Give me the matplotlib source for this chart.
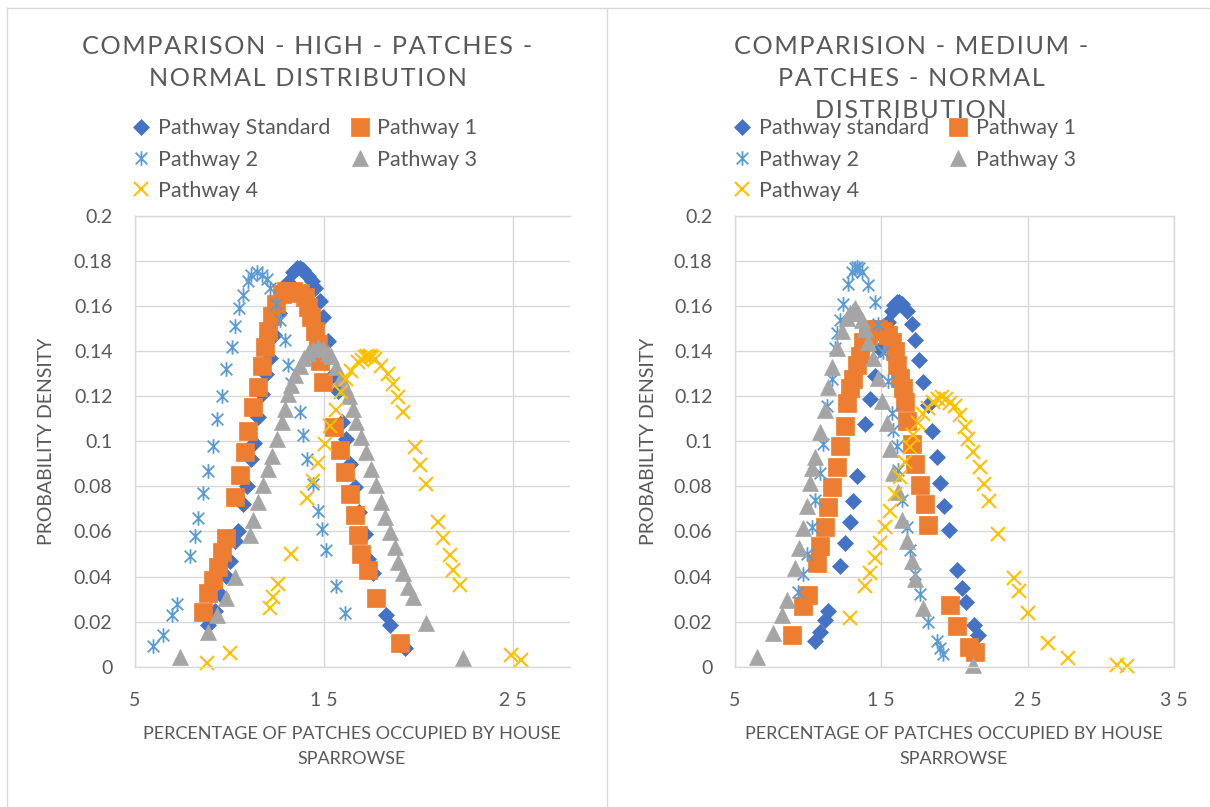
import matplotlib
matplotlib.use("Agg")
import matplotlib.pyplot as plt
from matplotlib.path import Path
from matplotlib.lines import Line2D
from matplotlib import font_manager
from matplotlib.ticker import FixedLocator, FuncFormatter

# ---------------- high patches ----------------
high_std_x = [8.85, 9.25, 9.55, 9.85, 10.05, 10.30, 10.47, 10.70, 10.91, 11.17, 11.30, 11.52, 11.75, 11.95,
              12.14, 12.35, 12.60, 12.85, 13.10, 13.35, 13.55, 13.72, 13.90, 14.16, 14.35, 14.51, 14.78, 14.95,
              15.22, 15.50, 15.74, 15.95, 16.19, 16.36, 16.62, 16.85, 17.15, 17.35, 17.59, 18.26, 18.51, 19.26]
high_std_y = [0.0185, 0.0246, 0.0318, 0.0404, 0.0469, 0.0558, 0.0600, 0.0720, 0.0800, 0.0920, 0.0994, 0.1107,
              0.1210, 0.1300, 0.1370, 0.1470, 0.1570, 0.1645, 0.1707, 0.1750, 0.1768, 0.1770, 0.1760, 0.1735,
              0.1710, 0.1680, 0.1624, 0.1550, 0.1447, 0.1296, 0.1225, 0.1085, 0.1010, 0.0900, 0.0797, 0.0686,
              0.0590, 0.0480, 0.0414, 0.0229, 0.0185, 0.0081]

high_p1_x = [8.62, 8.88, 9.15, 9.41, 9.59, 9.85, 10.29, 10.56, 10.82, 11.00, 11.26, 11.52, 11.70, 11.88, 12.05,
             12.23, 12.49, 12.76, 13.02, 13.37, 13.72, 13.99, 14.16, 14.34, 14.51, 14.69, 14.78, 14.97, 15.55,
             15.83, 16.10, 16.36, 16.63, 16.80, 16.98, 17.33, 17.77, 19.00]
high_p1_y = [0.0244, 0.0325, 0.0384, 0.0443, 0.0509, 0.0569, 0.0753, 0.0849, 0.0952, 0.1048, 0.1151, 0.1240,
             0.1336, 0.1417, 0.1490, 0.1557, 0.1610, 0.1654, 0.1668, 0.1668, 0.1660, 0.1639, 0.1594, 0.1550,
             0.1490, 0.1432, 0.1358, 0.1262, 0.1063, 0.0960, 0.0864, 0.0768, 0.0672, 0.0583, 0.0502, 0.0428,
             0.0303, 0.0104]

high_p2_x = [5.98, 6.48, 6.96, 7.23, 7.92, 8.18, 8.36, 8.62, 8.88, 9.15, 9.33, 9.59, 9.85, 10.12, 10.29, 10.52,
             10.73, 10.99, 11.17, 11.44, 11.70, 11.97, 12.15, 12.49, 12.67, 12.93, 13.10, 13.28, 13.72, 13.90,
             14.08, 14.42, 14.69, 14.87, 15.13, 15.62, 16.10]
high_p2_y = [0.009, 0.014, 0.023, 0.028, 0.049, 0.058, 0.066, 0.077, 0.087, 0.098, 0.110, 0.120, 0.132, 0.142,
             0.151, 0.159, 0.165, 0.171, 0.174, 0.175, 0.174, 0.172, 0.168, 0.161, 0.154, 0.145, 0.134, 0.126,
             0.113, 0.103, 0.092, 0.081, 0.069, 0.061, 0.052, 0.036, 0.024]

high_p3_x = [7.39, 8.88, 9.33, 9.85, 10.29, 11.08, 11.26, 11.52, 11.79, 12.05, 12.23, 12.50, 12.76, 12.93, 13.10,
             13.28, 13.46, 13.72, 13.95, 14.16, 14.40, 14.69, 14.95, 15.20, 15.39, 15.66, 15.90, 16.10, 16.30,
             16.54, 16.71, 16.98, 17.24, 17.51, 17.77, 18.03, 18.21, 18.47, 18.74, 18.91, 19.17, 19.44, 19.70,
             20.41, 22.34]
high_p3_y = [0.0044, 0.0155, 0.0229, 0.0303, 0.0399, 0.0583, 0.0650, 0.0730, 0.0805, 0.0879, 0.0937, 0.1010,
             0.1085, 0.1144, 0.1210, 0.1250, 0.1295, 0.1336, 0.1370, 0.1390, 0.1410, 0.1417, 0.1410, 0.1390,
             0.1380, 0.1329, 0.1280, 0.1240, 0.1203, 0.1144, 0.1085, 0.1019, 0.0952, 0.0879, 0.0805, 0.0731,
             0.0664, 0.0598, 0.0531, 0.0465, 0.0414, 0.0354, 0.0310, 0.0192, 0.0037]

high_p4_x = [8.80, 10.03, 12.14, 12.31, 12.58, 13.28, 14.10, 14.42, 14.69, 15.04, 15.31, 15.66, 15.92, 16.19,
             16.45, 16.80, 17.00, 17.15, 17.30, 17.42, 17.55, 17.68, 18.03, 18.38, 18.65, 18.91, 19.17, 19.79,
             20.06, 20.41, 21.02, 21.29, 21.64, 21.81, 22.17, 24.89, 25.42]
high_p4_y = [0.0015, 0.0059, 0.0259, 0.0310, 0.0369, 0.0502, 0.0750, 0.0823, 0.0904, 0.0990, 0.1066, 0.1140,
             0.1218, 0.1277, 0.1314, 0.1350, 0.1360, 0.1373, 0.1378, 0.1380, 0.1375, 0.1366, 0.1336, 0.1299,
             0.1255, 0.1196, 0.1129, 0.0974, 0.0893, 0.0812, 0.0642, 0.0569, 0.0495, 0.0428, 0.0362, 0.0052,
             0.0030]

# ---------------- medium patches ----------------
med_std_x = [10.48, 10.82, 11.20, 11.39, 12.19, 12.53, 12.87, 13.10, 13.33, 13.90, 14.24, 14.58, 14.95, 15.26,
             15.49, 15.71, 15.90, 16.06, 16.25, 16.40, 16.74, 17.08, 17.31, 17.60, 17.87, 18.22, 18.45, 18.79,
             19.01, 19.29, 19.63, 20.15, 20.50, 20.79, 21.33, 21.63]
med_std_y = [0.0112, 0.0156, 0.0208, 0.0245, 0.0446, 0.0550, 0.0640, 0.0735, 0.0846, 0.1078, 0.1190, 0.1290,
             0.1410, 0.1490, 0.1530, 0.1580, 0.1605, 0.1620, 0.1620, 0.1610, 0.1580, 0.1520, 0.1450, 0.1360,
             0.1265, 0.1160, 0.1045, 0.0930, 0.0816, 0.0714, 0.0607, 0.0429, 0.0350, 0.0286, 0.0186, 0.0141]

med_p1_x = [8.89, 9.68, 10.02, 10.60, 10.82, 11.16, 11.39, 11.62, 11.96, 12.19, 12.53, 12.65, 12.87, 13.10,
            13.33, 13.55, 13.78, 14.12, 14.46, 14.80, 15.15, 15.49, 15.71, 15.94, 16.06, 16.28, 16.51, 16.62,
            16.74, 17.08, 17.31, 17.65, 17.99, 18.22, 19.68, 20.15, 21.00, 21.40]
med_p1_y = [0.0140, 0.0268, 0.0320, 0.0460, 0.0536, 0.0618, 0.0707, 0.0797, 0.0886, 0.0980, 0.1067, 0.1170,
            0.1235, 0.1276, 0.1340, 0.1380, 0.1443, 0.1466, 0.1500, 0.1500, 0.1490, 0.1470, 0.1440, 0.1400,
            0.1340, 0.1280, 0.1235, 0.1175, 0.1090, 0.0990, 0.0900, 0.0805, 0.0722, 0.0628, 0.0272, 0.0179,
            0.0089, 0.0067]

med_p2_x = [9.34, 9.68, 9.91, 10.26, 10.48, 10.82, 11.05, 11.28, 11.62, 11.85, 12.02, 12.19, 12.41, 12.75,
            13.00, 13.20, 13.33, 13.50, 13.70, 14.12, 14.58, 14.80, 15.14, 15.49, 15.71, 15.83, 16.06, 16.17,
            16.40, 16.74, 17.00, 17.31, 17.65, 18.22, 18.79, 19.01, 19.24]
med_p2_y = [0.0331, 0.0413, 0.0502, 0.0622, 0.0740, 0.0860, 0.0987, 0.1157, 0.1276, 0.1414, 0.1480, 0.1537,
            0.1610, 0.1700, 0.1750, 0.1770, 0.1775, 0.1770, 0.1750, 0.1692, 0.1618, 0.1520, 0.1395, 0.1268,
            0.1127, 0.1050, 0.0978, 0.0875, 0.0740, 0.0620, 0.0520, 0.0413, 0.0323, 0.0198, 0.0116, 0.0085,
            0.0055]

med_p3_x = [6.50, 7.63, 8.21, 8.55, 9.11, 9.40, 9.68, 9.91, 10.12, 10.30, 10.48, 10.82, 11.16, 11.39, 11.62,
            11.96, 12.30, 12.65, 12.85, 13.05, 13.21, 13.45, 13.70, 13.89, 14.12, 14.46, 14.80, 15.03, 15.37,
            15.60, 15.83, 16.17, 16.40, 16.74, 17.08, 17.31, 17.87, 21.29]
med_p3_y = [0.0045, 0.0149, 0.0231, 0.0298, 0.0439, 0.0525, 0.0617, 0.0713, 0.0817, 0.0880, 0.0930, 0.1040,
            0.1140, 0.1240, 0.1330, 0.1413, 0.1490, 0.1547, 0.1570, 0.1580, 0.1590, 0.1570, 0.1540, 0.1500,
            0.1440, 0.1370, 0.1280, 0.1180, 0.1080, 0.0967, 0.0860, 0.0774, 0.0651, 0.0558, 0.0469, 0.0387,
            0.0260, 0.0008]

med_p4_x = [12.87, 13.89, 14.24, 14.58, 14.92, 15.26, 15.60, 15.94, 16.28, 16.62, 16.97, 17.19, 17.53, 17.87,
            18.22, 18.55, 18.90, 19.13, 19.40, 19.70, 20.04, 20.38, 20.72, 20.94, 21.29, 21.74, 22.03, 22.37,
            23.00, 24.07, 24.42, 25.04, 26.41, 27.77, 31.10, 31.80]
med_p4_y = [0.0216, 0.0357, 0.0417, 0.0484, 0.0550, 0.0618, 0.0692, 0.0766, 0.0841, 0.0908, 0.0975, 0.1030,
            0.1080, 0.1120, 0.1150, 0.1175, 0.1190, 0.1195, 0.1190, 0.1170, 0.1155, 0.1116, 0.1064, 0.1012,
            0.0952, 0.0885, 0.0810, 0.0736, 0.0588, 0.0394, 0.0338, 0.0238, 0.0104, 0.0037, 0.0006, 0.0005]

high_labels = ["Pathway Standard", "Pathway 1", "Pathway 2", "Pathway 3", "Pathway 4"]
med_labels = ["Pathway standard", "Pathway 1", "Pathway 2", "Pathway 3", "Pathway 4"]
high_title = "COMPARISON - HIGH - PATCHES -\nNORMAL DISTRIBUTION"
med_title = "COMPARISION - MEDIUM -\nPATCHES - NORMAL\nDISTRIBUTION"
x_title = "PERCENTAGE OF PATCHES OCCUPIED BY HOUSE\nSPARROWSE"
y_title = "PROBABILITY DENSITY"
y_ticks = [0, 0.02, 0.04, 0.06, 0.08, 0.1, 0.12, 0.14, 0.16, 0.18, 0.2]
high_x_ticks = [5, 15, 25]
med_x_ticks = [5, 15, 25, 35]

# ---------------- styling ----------------
W, H = 1210, 807
TXT = "#595959"
GRID = "#D9D9D9"
installed = {f.name for f in font_manager.fontManager.ttflist}
BASE = ["Lato", "DejaVu Sans"]
CAPS = (["Liberation Sans Narrow", "Lato", "DejaVu Sans"]
        if "Liberation Sans Narrow" in installed else BASE)
CAPS_SIZE = 14.5 if CAPS[0] == "Liberation Sans Narrow" else 13

star = Path([(0, -1), (0, 1), (-0.8, -0.8), (0.8, 0.8), (-0.8, 0.8), (0.8, -0.8)],
            [Path.MOVETO, Path.LINETO] * 3)

STYLES = [
    dict(marker="D", color="#4472C4", ms=8.5, mec="#4472C4", mew=0.5),
    dict(marker="s", color="#ED7D31", ms=12.5, mec="#ED7D31", mew=0.5),
    dict(marker=star, color="#5B9BD5", ms=10.5, mfc="none", mec="#5B9BD5", mew=1.3),
    dict(marker="^", color="#A5A5A5", ms=12, mec="#A5A5A5", mew=0.5),
    dict(marker="x", color="#FFC000", ms=10.5, mec="#FFC000", mew=1.5),
]


def spaced(text, sep="\u200a"):
    return "\n".join(sep.join(line) for line in text.split("\n"))


def px_box(x0, x1, y0, y1):
    return [x0 / W, 1 - y1 / H, (x1 - x0) / W, (y1 - y0) / H]


fig = plt.figure(figsize=(W / 100, H / 100), dpi=100)

# panel frames
fig.add_artist(Line2D([7 / W, 7 / W], [0, 1 - 8 / H], transform=fig.transFigure, color=GRID, lw=1))
fig.add_artist(Line2D([7 / W, 1], [1 - 8 / H, 1 - 8 / H], transform=fig.transFigure, color=GRID, lw=1))
fig.add_artist(Line2D([607 / W, 607 / W], [0, 1 - 8 / H], transform=fig.transFigure, color=GRID, lw=1))


def draw_panel(box, xlim, xticks, series, labels, title, title_xy, legend_xy, xt_xy, yt_xy, right_edge):
    ax = fig.add_axes(box)
    ax.set_xlim(*xlim)
    ax.set_ylim(0, 0.2)
    ax.xaxis.set_major_locator(FixedLocator(xticks))
    ax.yaxis.set_major_locator(FixedLocator(y_ticks))
    ax.xaxis.set_major_formatter(FuncFormatter(lambda v, p: " ".join(f"{v:g}")))
    ax.yaxis.set_major_formatter(FuncFormatter(lambda v, p: f"{round(v, 2):g}"))
    ax.grid(True, color=GRID, lw=1.0)
    ax.set_axisbelow(True)
    for side, sp in ax.spines.items():
        sp.set_color(GRID)
        sp.set_linewidth(1.0)
    ax.spines["right"].set_visible(right_edge)
    ax.tick_params(length=0, labelsize=14, labelcolor=TXT)
    ax.tick_params(axis="x", pad=18)
    ax.tick_params(axis="y", pad=16)
    for lab in ax.get_xticklabels() + ax.get_yticklabels():
        lab.set_family(BASE)

    handles = []
    for (xs, ys), st, lab in zip(series, STYLES, labels):
        ax.plot(xs, ys, linestyle="none", clip_on=False, label=lab, **st)
        handles.append(Line2D([], [], linestyle="none", **st))

    # Excel fills the legend row by row; matplotlib fills column by column
    order = [0, 2, 4, 1, 3]
    fig.legend([handles[i] for i in order], [labels[i] for i in order],
               loc="center", bbox_to_anchor=(legend_xy[0] / W, 1 - legend_xy[1] / H),
               ncol=2, frameon=False, handlelength=0.9, handletextpad=0.35,
               columnspacing=0.9, labelspacing=0.52, borderpad=0,
               prop=dict(family=BASE, size=15.5), labelcolor=TXT)

    fig.text(title_xy[0] / W, 1 - title_xy[1] / H, spaced(title), ha="center", va="center",
             multialignment="center", fontsize=18.2, color=TXT, family=BASE, linespacing=1.46)
    fig.text(xt_xy[0] / W, 1 - xt_xy[1] / H, x_title, ha="center", va="center",
             multialignment="center", fontsize=CAPS_SIZE, color=TXT, family=CAPS, linespacing=1.75)
    fig.text(yt_xy[0] / W, 1 - yt_xy[1] / H, y_title, ha="center", va="center",
             rotation=90, fontsize=14, color=TXT, family=CAPS)
    return ax


draw_panel(px_box(134.7, 570, 216, 666.7), (5, 28), high_x_ticks,
           [(high_std_x, high_std_y), (high_p1_x, high_p1_y), (high_p2_x, high_p2_y),
            (high_p3_x, high_p3_y), (high_p4_x, high_p4_y)],
           high_labels, high_title, (307.5, 62.5), (304, 159.5), (352, 746.5), (47, 441), False)

draw_panel(px_box(734.7, 1174, 216, 666.7), (5, 35), med_x_ticks,
           [(med_std_x, med_std_y), (med_p1_x, med_p1_y), (med_p2_x, med_p2_y),
            (med_p3_x, med_p3_y), (med_p4_x, med_p4_y)],
           med_labels, med_title, (911, 78.5), (904, 159.5), (954, 746.5), (648, 441), True)

fig.savefig("out.png", dpi=100)
